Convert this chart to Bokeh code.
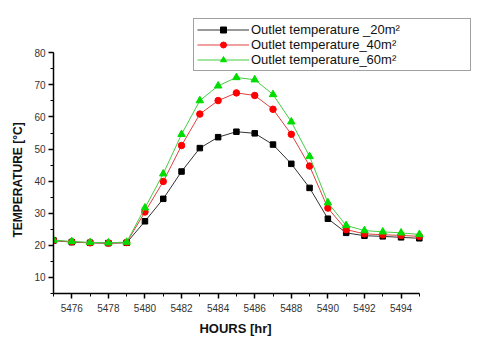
from bokeh.plotting import figure
from bokeh.models import (Range1d, SingleIntervalTicker, Legend, LegendItem)
from bokeh.embed import file_html
from bokeh.resources import INLINE

hours = list(range(5475, 5496))
t20 = [21.5, 21.0, 20.8, 20.7, 20.8, 27.5, 34.5, 43.0, 50.3, 53.7, 55.4,
       54.9, 51.4, 45.4, 37.9, 28.3, 23.9, 23.0, 22.8, 22.5, 22.2]
t40 = [21.5, 21.1, 20.8, 20.7, 20.9, 30.4, 39.9, 51.1, 60.9, 65.1, 67.5,
       66.7, 62.4, 54.6, 44.7, 31.6, 24.9, 23.6, 23.3, 23.1, 22.8]
t60 = [21.6, 21.2, 20.9, 20.8, 21.0, 31.7, 42.3, 54.6, 65.1, 69.7, 72.3,
       71.6, 67.0, 58.5, 47.7, 33.3, 26.2, 24.6, 24.2, 23.9, 23.4]
labels = ["Outlet temperature _20m\u00b2", "Outlet temperature_40m\u00b2",
          "Outlet temperature_60m\u00b2"]
x_title = "HOURS [hr]"
y_title = "TEMPERATURE [\u00b0C]"

# frame is taller/wider than the axes so the legend (drawn inside the frame)
# can sit where the reference has it; axis bounds keep the axes short.
p = figure(width=480, height=340, output_backend="svg", toolbar_location=None,
           x_range=Range1d(5475, 5498.07), y_range=Range1d(5, 91.3),
           min_border_left=53, min_border_right=5, min_border_top=16,
           min_border_bottom=47)
p.outline_line_color = None
p.xgrid.visible = False
p.ygrid.visible = False
p.background_fill_color = "white"

FONT = "Liberation Sans"
NB = "\u00a0"

p.xaxis.ticker = SingleIntervalTicker(interval=2, num_minor_ticks=2)
p.yaxis.ticker = SingleIntervalTicker(interval=10, num_minor_ticks=2)
p.xaxis.bounds = (5475, 5495)
p.yaxis.bounds = (5, 80)
for ax in (p.xaxis[0], p.yaxis[0]):
    ax.axis_line_color = "black"
    ax.axis_line_width = 1.5
    ax.major_tick_line_color = "black"
    ax.minor_tick_line_color = "black"
    ax.major_tick_line_width = 1.5
    ax.minor_tick_line_width = 1
    ax.major_tick_out = 5
    ax.major_tick_in = 0
    ax.minor_tick_out = 3
    ax.minor_tick_in = 0
    ax.major_label_text_font = FONT
    ax.major_label_text_font_size = "10px"
    ax.major_label_text_color = "#333333"
    ax.axis_label_text_font = FONT
    ax.axis_label_text_font_style = "bold"
    ax.axis_label_text_color = "#111111"

# trailing no-break spaces centre the titles on the axes, not the wider frame
p.xaxis.axis_label = x_title + NB * 16
p.xaxis.axis_label_text_font_size = "13px"
p.xaxis.major_label_standoff = 5
p.xaxis.axis_label_standoff = 6
p.yaxis.axis_label = y_title + NB * 15
p.yaxis.axis_label_text_font_size = "12px"
p.yaxis.major_label_standoff = 3
p.yaxis.axis_label_standoff = 6

r1l = p.line(hours, t20, line_color="#333333", line_width=1)
r1m = p.scatter(hours, t20, marker="square", size=5.5, fill_color="black",
                line_color="black")
r2l = p.line(hours, t40, line_color="#e04040", line_width=1)
r2m = p.scatter(hours, t40, marker="circle", size=6.5, fill_color="#ff0000",
                line_color="#ff0000")
r3l = p.line(hours, t60, line_color="#44cc44", line_width=1)
r3m = p.scatter(hours, t60, marker="triangle", size=7.5, fill_color="#00dd00",
                line_color="#00dd00")

legend = Legend(items=[
    LegendItem(label=labels[0], renderers=[r1l, r1m]),
    LegendItem(label=labels[1], renderers=[r2l, r2m]),
    LegendItem(label=labels[2], renderers=[r3l, r3m]),
], location=(140, 222))
legend.label_text_font = FONT
legend.label_text_font_size = "13px"
legend.label_text_color = "#111111"
legend.glyph_width = 52
legend.glyph_height = 15
legend.label_height = 15
legend.label_width = 216
legend.label_standoff = 2
legend.spacing = 0
legend.padding = 3
legend.margin = 0
legend.border_line_color = "#444444"
legend.border_line_width = 1
legend.background_fill_alpha = 1
p.add_layout(legend, "center")

open("out.html", "w").write(file_html(p, INLINE))
